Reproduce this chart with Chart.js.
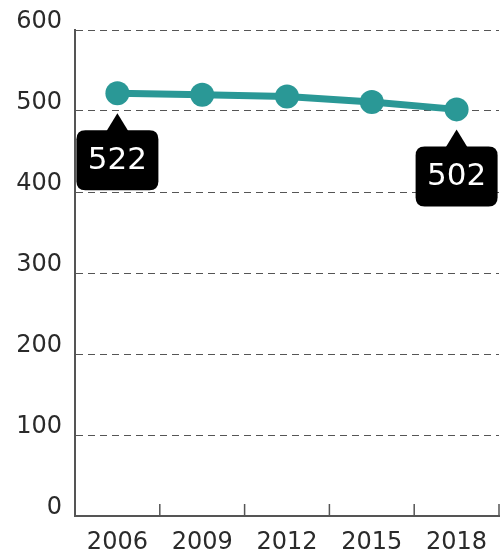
<!DOCTYPE html>
<html><head><meta charset="utf-8">
<script src="https://cdn.jsdelivr.net/npm/chart.js@4"></script>
<style>html,body{margin:0;padding:0;background:#fff;overflow:hidden}#w{width:500px;height:550px;position:relative}canvas{display:block}</style>
</head><body><div id="w"><canvas id="c"></canvas></div>
<script>
const years = ['2006','2009','2012','2015','2018'];
const scores = [522, 520, 518, 511, 502];
const yTicks = [0,100,200,300,400,500,600];
const labelled = [0, 4];

const FONT = "'DejaVu Sans', sans-serif";
const TEAL = '#2a9896';

const decor = {
  id:'decor',
  afterDatasetsDraw(chart){
    const ctx = chart.ctx, x = chart.scales.x, a = chart.chartArea;
    ctx.save();
    ctx.strokeStyle = '#555'; ctx.lineWidth = 1.5;
    for (let i=0;i<years.length;i++){
      const b = i < years.length-1 ? (x.getPixelForValue(i)+x.getPixelForValue(i+1))/2 : a.right;
      ctx.beginPath(); ctx.moveTo(b, a.bottom); ctx.lineTo(b, a.bottom-12); ctx.stroke();
    }
    const meta = chart.getDatasetMeta(0);
    labelled.forEach(i=>{
      const p = meta.data[i];
      const cx = Math.min(p.x, a.right - 42);
      const tipY = p.y + 20, w = 82, h = 60, r = 9;
      const bx = cx - w/2, by = p.y + 37;
      ctx.fillStyle = '#000';
      ctx.beginPath();
      ctx.moveTo(p.x, tipY); ctx.lineTo(p.x+11, by+1); ctx.lineTo(p.x-11, by+1); ctx.closePath(); ctx.fill();
      ctx.beginPath();
      ctx.moveTo(bx+r,by); ctx.lineTo(bx+w-r,by); ctx.quadraticCurveTo(bx+w,by,bx+w,by+r);
      ctx.lineTo(bx+w,by+h-r); ctx.quadraticCurveTo(bx+w,by+h,bx+w-r,by+h);
      ctx.lineTo(bx+r,by+h); ctx.quadraticCurveTo(bx,by+h,bx,by+h-r);
      ctx.lineTo(bx,by+r); ctx.quadraticCurveTo(bx,by,bx+r,by); ctx.fill();
      ctx.fillStyle = '#fff'; ctx.font = '31px '+FONT; ctx.textAlign='center'; ctx.textBaseline='middle';
      ctx.fillText(String(scores[i]), bx+w/2, by+h/2+1);
    });
    ctx.restore();
  }
};

new Chart(document.getElementById('c'), {
  type:'line',
  data:{labels:years, datasets:[{data:scores, borderColor:TEAL, backgroundColor:TEAL, borderWidth:7,
    pointRadius:12, pointHoverRadius:12, pointBackgroundColor:TEAL, pointBorderWidth:0, tension:0, clip:false}]},
  options:{
    responsive:true, maintainAspectRatio:false, animation:false,
    layout:{autoPadding:false, padding:{top:30,right:1,left:0,bottom:0}},
    plugins:{legend:{display:false}, tooltip:{enabled:false}},
    scales:{
      x:{offset:true, grid:{display:false}, border:{display:true,color:'#555',width:2},
         ticks:{color:'#2a2a2a', font:{family:FONT,size:24}, padding:4, maxRotation:0, autoSkip:false},
         afterFit(s){ s.height = 34; s.paddingLeft = 0; s.paddingRight = 0; }},
      y:{min:0,max:600, afterBuildTicks(s){ s.ticks = yTicks.map(v=>({value:v})); },
         grid:{color:'#555', lineWidth:1, drawTicks:false},
         border:{display:true,color:'#555',width:2, dash:[7,5]},
         ticks:{color:'#2a2a2a', font:{family:FONT,size:24}, padding:13, labelOffset:-8},
         afterFit(s){ s.width = 75; s.paddingTop = 0; s.paddingBottom = 0; }}
    }
  },
  plugins:[decor]
});
</script></body></html>
